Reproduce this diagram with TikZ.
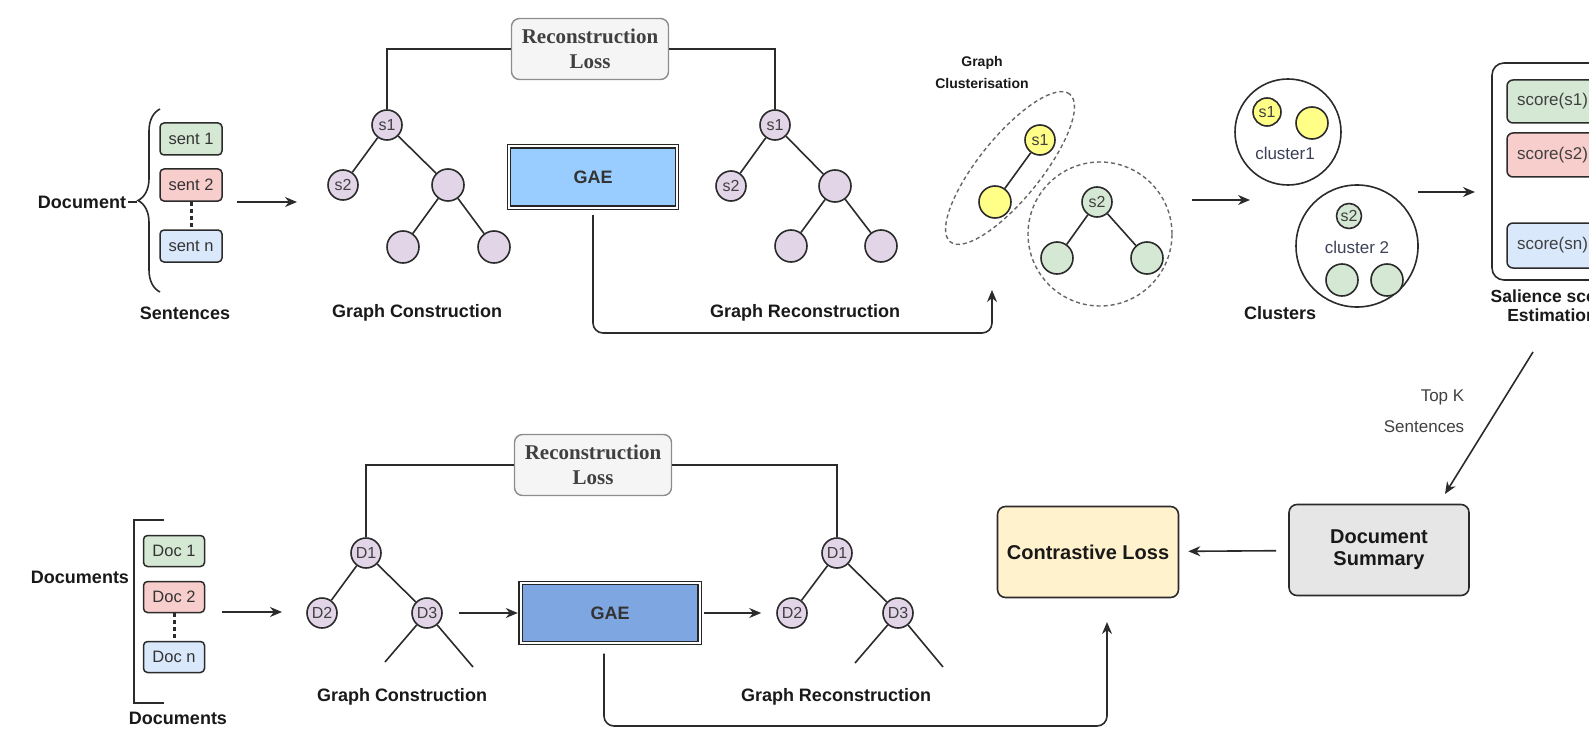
\documentclass[tikz,border=0pt]{standalone}
\usepackage{fontspec}
\setmainfont{Liberation Sans}
\newfontfamily\lossfont{Liberation Serif}
\usetikzlibrary{arrows.meta,shapes.geometric,decorations.pathreplacing}

\definecolor{sentgreen}{HTML}{D5E8D4}
\definecolor{sentred}{HTML}{F8CECC}
\definecolor{sentblue}{HTML}{DAE8FC}
\definecolor{treepurple}{HTML}{E1D5E7}
\definecolor{clyellow}{HTML}{FFFF88}
\definecolor{gaelight}{HTML}{99CCFF}
\definecolor{gaedark}{HTML}{7EA6E0}
\definecolor{lossyellow}{HTML}{FFF2CC}
\definecolor{summgray}{HTML}{E6E6E6}
\definecolor{linegray}{HTML}{2B2B2B}
\definecolor{clustertext}{HTML}{3D4157}

\begin{document}
\begin{tikzpicture}[x=1pt, y=-1pt, line width=1.6pt, draw=linegray,
    lbl/.style={font=\fontsize{18}{20}\selectfont\bfseries, text=black!90, align=center, inner sep=1pt},
    small/.style={font=\fontsize{17}{19}\selectfont, text=black!75, inner sep=1pt},
    sentbox/.style={draw, line width=1.5pt, rounded corners=4pt, minimum width=62pt, minimum height=32pt, inner sep=0pt, font=\fontsize{16.5}{18}\selectfont, text=black!80},
    tnode/.style={circle, draw, fill=treepurple, minimum size=30pt, inner sep=0pt, font=\fontsize{16}{18}\selectfont, text=black!75},
    lossbox/.style={draw=black!45, fill=black!4, line width=1.4pt, rounded corners=8pt, minimum width=157pt, minimum height=61pt, align=center, inner sep=0pt, font=\lossfont\bfseries\fontsize{21}{25}\selectfont, text=black!75},
    gaebox/.style={draw=black!85, double distance=2pt, line width=1.4pt, inner sep=0pt, font=\fontsize{18}{20}\selectfont\bfseries, text=black!80},
    bigbox/.style={draw, rounded corners=8pt, line width=1.6pt, align=center, inner sep=0pt, font=\fontsize{20}{22}\selectfont\bfseries, text=black!90},
    scorebox/.style={draw, line width=1.5pt, rounded corners=6pt, minimum width=91pt, inner sep=0pt, font=\fontsize{17}{19}\selectfont, text=black!75},
    grouping/.style={draw=black!60, line width=1.4pt, dash pattern=on 4pt off 3pt},
    dots/.style={line width=3pt, dash pattern=on 4pt off 3pt},
    arr/.style={-{Stealth[length=12pt, width=10pt]}}]

    \useasboundingbox (0,0) rectangle (1589,730);
    \clip (0,0) rectangle (1589,730);

    % sentences of one document
    \node[lbl] (doc) at (82,202) {Document};
    \node[sentbox, fill=sentgreen] (sent1) at (191,139) {sent 1};
    \node[sentbox, fill=sentred] (sent2) at (191,185) {sent 2};
    \node[sentbox, fill=sentblue] (sentn) at (191,246) {sent n};
    \draw[dots] (sent2) -- (sentn);
    \draw[decorate, decoration={brace, amplitude=22pt}] (160,292) -- (160,109);
    \coordinate (bracetip) at (137,202);
    \draw (doc) -- (bracetip);
    \node[lbl] (sentlbl) at (185,313) {Sentences};
    \coordinate (a1s) at (237,202);
    \coordinate (a1e) at (297,202);
    \draw[arr] (a1s) -- (a1e);

    % graph construction
    \node[tnode] (s1) at (387,125) {s1};
    \node[tnode] (s2) at (343,185) {s2};
    \node[tnode, minimum size=32pt] (c1) at (448,185) {};
    \node[tnode, minimum size=32pt] (c2) at (403,247) {};
    \node[tnode, minimum size=32pt] (c3) at (494,247) {};
    \draw (s1) -- (s2);
    \draw (s1) -- (c1);
    \draw (c1) -- (c2);
    \draw (c1) -- (c3);
    \node[lbl] (gclbl) at (417,313) {Graph Construction};

    \node[lossbox] (recl) at (590,49) {Reconstruction\\Loss};
    \node[gaebox, fill=gaelight, minimum width=168pt, minimum height=61pt] (gae1) at (593,177) {GAE};

    % graph reconstruction
    \node[tnode] (rs1) at (775,125) {s1};
    \node[tnode] (rs2) at (731,186) {s2};
    \node[tnode, minimum size=32pt] (rc1) at (835,186) {};
    \node[tnode, minimum size=32pt] (rc2) at (791,246) {};
    \node[tnode, minimum size=32pt] (rc3) at (881,246) {};
    \draw (rs1) -- (rs2);
    \draw (rs1) -- (rc1);
    \draw (rc1) -- (rc2);
    \draw (rc1) -- (rc3);
    \node[lbl] (grlbl) at (805,313) {Graph Reconstruction};

    \draw (recl.west) -| (s1);
    \draw (recl.east) -| (rs1);

    % graph clusterisation
    \node[lbl, font=\fontsize{14}{22}\selectfont\bfseries] (gcl) at (982,72) {Graph\\Clusterisation};
    \node[grouping, ellipse, minimum width=190pt, minimum height=62pt, rotate=51] (grp1) at (1010,168) {};
    \node[grouping, circle, minimum size=144pt] (grp2) at (1100,234) {};
    \node[tnode, fill=clyellow] (ys1) at (1040,140) {s1};
    \node[tnode, fill=clyellow, minimum size=32pt] (ye) at (995,202) {};
    \draw (ys1) -- (ye);
    \node[tnode, fill=sentgreen] (gs2) at (1097,202) {s2};
    \node[tnode, fill=sentgreen, minimum size=32pt] (gl) at (1057,258) {};
    \node[tnode, fill=sentgreen, minimum size=32pt] (gr) at (1147,258) {};
    \draw (gs2) -- (gl);
    \draw (gs2) -- (gr);

    \coordinate (clbot) at (992,333);
    \coordinate (clin) at (992,290);
    \draw[arr, rounded corners=10pt, shorten <=7pt] (gae1.south) |- (clbot) -- (clin);

    % clusters
    \coordinate (a2s) at (1192,200);
    \coordinate (a2e) at (1250,200);
    \draw[arr] (a2s) -- (a2e);
    \node[circle, draw, minimum size=106pt] (cl1) at (1288,132) {};
    \node[tnode, fill=clyellow, minimum size=28pt] (ks1) at (1267,112) {s1};
    \node[tnode, fill=clyellow, minimum size=32pt] (ky) at (1312,123) {};
    \node[small, text=clustertext] (cl1lbl) at (1285,153) {cluster1};
    \node[circle, draw, minimum size=122pt] (cl2) at (1357,246) {};
    \node[tnode, fill=sentgreen, minimum size=25pt] (ks2) at (1349,216) {s2};
    \node[small, text=clustertext] (cl2lbl) at (1357,247) {cluster 2};
    \node[tnode, fill=sentgreen, minimum size=32pt] (kg1) at (1342,280) {};
    \node[tnode, fill=sentgreen, minimum size=32pt] (kg2) at (1387,280) {};
    \node[lbl] (cllbl) at (1280,313) {Clusters};

    % salience scores
    \coordinate (a3s) at (1418,192);
    \coordinate (a3e) at (1475,192);
    \draw[arr] (a3s) -- (a3e);
    \node[draw, rounded corners=12pt, minimum width=120pt, minimum height=217pt] (sal) at (1552,171.5) {};
    \node[scorebox, fill=sentgreen, minimum height=43pt] (sc1) at (1552.5,101.5) {score(s1)};
    \node[scorebox, fill=sentred, minimum height=44pt] (sc2) at (1552.5,155) {score(s2)};
    \node[scorebox, fill=sentblue, minimum height=45pt] (scn) at (1552.5,245.5) {score(sn)};
    \node[lbl, font=\fontsize{17.5}{19}\selectfont\bfseries] (sallbl) at (1552,306) {Salience score\\Estimation};

    % summary and contrastive loss
    \coordinate (tks) at (1533,352);
    \coordinate (tke) at (1445,494);
    \draw[arr] (tks) -- (tke);
    \node[small, anchor=east] (topk) at (1466,397) {Top K};
    \node[small, anchor=east] (topsent) at (1466,427) {Sentences};
    \node[bigbox, fill=summgray, minimum width=180pt, minimum height=91pt] (summ) at (1379,550) {Document\\Summary};
    \node[bigbox, fill=lossyellow, minimum width=181pt, minimum height=91pt] (contr) at (1088,552) {Contrastive Loss};
    \draw[arr, shorten <=12pt, shorten >=9pt] (summ) -- (contr);

    % documents of the corpus
    \node[lbl] (docs) at (80,577) {Documents};
    \node[sentbox, fill=sentgreen, minimum width=61pt, minimum height=31pt] (d1) at (174,551) {Doc 1};
    \node[sentbox, fill=sentred, minimum width=61pt, minimum height=31pt] (d2) at (174,597) {Doc 2};
    \node[sentbox, fill=sentblue, minimum width=61pt, minimum height=31pt] (dn) at (174,657) {Doc n};
    \draw[dots] (d2) -- (dn);
    \draw (164,520) -- (134,520) -- (134,703) -- (164,703);
    \node[lbl] (docslbl) at (178,718) {Documents};
    \coordinate (a4s) at (222,612);
    \coordinate (a4e) at (282,612);
    \draw[arr] (a4s) -- (a4e);

    % document graph construction
    \node[tnode] (D1) at (366,553) {D1};
    \node[tnode] (D2) at (322,613) {D2};
    \node[tnode] (D3) at (427,613) {D3};
    \coordinate (ld3a) at (385,662);
    \coordinate (ld3b) at (473,667);
    \draw (D1) -- (D2);
    \draw (D1) -- (D3);
    \draw (D3) -- (ld3a);
    \draw (D3) -- (ld3b);
    \node[lbl] (gclbl2) at (402,697) {Graph Construction};

    \node[lossbox] (recl2) at (593,465) {Reconstruction\\Loss};
    \node[gaebox, fill=gaedark, minimum width=179pt, minimum height=60pt] (gae2) at (610,613) {GAE};
    \draw[arr, shorten <=16pt, shorten >=2pt] (D3) -- (gae2);

    % document graph reconstruction
    \node[tnode] (rD1) at (837,553) {D1};
    \node[tnode] (rD2) at (792,613) {D2};
    \node[tnode] (rD3) at (898,613) {D3};
    \coordinate (rld3a) at (855,663);
    \coordinate (rld3b) at (943,667);
    \draw (rD1) -- (rD2);
    \draw (rD1) -- (rD3);
    \draw (rD3) -- (rld3a);
    \draw (rD3) -- (rld3b);
    \node[lbl] (grlbl2) at (836,697) {Graph Reconstruction};
    \draw[arr, shorten <=4pt, shorten >=15pt] (gae2) -- (rD2);

    \draw (recl2.west) -| (D1);
    \draw (recl2.east) -| (rD1);

    \coordinate (ctbot) at (1107,726);
    \coordinate (ctin) at (1107,622);
    \draw[arr, rounded corners=10pt, shorten <=10pt] ([xshift=-6pt]gae2.south) |- (ctbot) -- (ctin);
\end{tikzpicture}
\end{document}
